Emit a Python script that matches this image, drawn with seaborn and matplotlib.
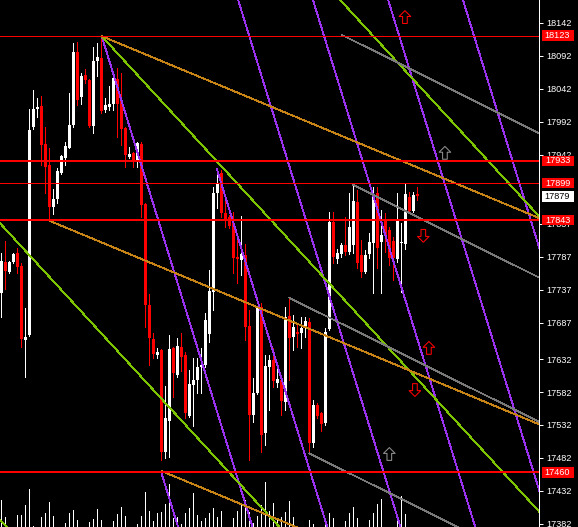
import numpy as np
import pandas as pd
import matplotlib
matplotlib.use('Agg')
import matplotlib.pyplot as plt
import matplotlib.transforms as mtransforms
from matplotlib.patches import Rectangle
from matplotlib.path import Path
import seaborn as sns

# ---------------- data ----------------
opens = [17732,17779,17764,17779,17793,17773,17661,17669,17984,18011,
         18016,17958,17927,17863,17875,17914,17937,17952,17987,18098,
         18030,18063,18056,17986,18084,18089,18010,18015,18019,18057,
         18025,17983,17939,17945,17933,17958,17867,17714,17662,17638,
         17646,17491,17538,17649,17608,17650,17638,17546,17593,17600,
         17620,17623,17670,17734,17884,17914,17854,17848,17838,17787,
         17782,17790,17682,17547,17580,17711,17520,17620,17631,17596,
         17600,17567,17697,17666,17673,17672,17679,17688,17505,17562,
         17550,17535,17678,17840,17784,17791,17805,17795,17805,17870,
         17790,17764,17791,17808,17884,17810,17843,17828,17811,17784,
         17808,17807,17878,17857,17882]
highs = [17793,17811,17781,17793,17801,17778,17710,18011,18040,18028,
         18031,17984,17952,17890,17922,17942,17961,18036,18112,18113,
         18066,18072,18057,18106,18112,18122,18028,18046,18060,18074,
         18066,17984,17954,17946,17961,17961,17869,17731,17672,17649,
         17647,17591,17669,17650,17664,17672,17643,17615,17634,17634,
         17649,17702,17767,17893,17920,17919,17878,17851,17855,17819,
         17849,17807,17707,17603,17711,17717,17638,17638,17649,17620,
         17603,17711,17725,17699,17687,17696,17696,17694,17570,17565,
         17552,17679,17855,17855,17799,17808,17848,17884,17896,17889,
         17813,17798,17823,17893,17893,17858,17854,17832,17817,17884,
         17839,17899,17886,17886,17893]
lows = [17696,17738,17763,17778,17763,17650,17605,17667,17981,17999,
        17927,17884,17842,17852,17869,17913,17927,17952,17984,18018,
        18019,18051,17984,17975,18062,18005,18007,18010,18010,17969,
        17957,17923,17937,17923,17923,17848,17681,17623,17634,17634,
        17479,17482,17483,17574,17605,17614,17543,17544,17530,17580,
        17580,17620,17658,17707,17861,17848,17832,17831,17763,17747,
        17760,17661,17479,17537,17579,17491,17502,17555,17590,17590,
        17547,17555,17600,17646,17650,17649,17666,17489,17499,17543,
        17523,17532,17676,17778,17778,17787,17790,17791,17793,17770,
        17757,17763,17785,17732,17770,17732,17795,17775,17752,17779,
        17734,17799,17854,17855,17873]
closes = [17781,17766,17779,17791,17772,17662,17666,17980,18011,18015,
          17957,17923,17863,17875,17917,17940,17955,17987,18098,18025,
          18062,18056,17986,18084,18090,18008,18018,18019,18059,18019,
          17981,17942,17943,17934,17960,17866,17714,17664,17640,17643,
          17491,17543,17647,17611,17652,17635,17550,17594,17600,17620,
          17623,17691,17735,17884,17899,17854,17845,17834,17785,17784,
          17791,17681,17547,17580,17710,17517,17621,17631,17599,17602,
          17568,17696,17664,17681,17670,17679,17690,17505,17562,17546,
          17533,17673,17840,17787,17793,17805,17795,17832,17872,17778,
          17764,17790,17810,17878,17801,17820,17820,17785,17785,17843,
          17810,17883,17857,17881,17879]
volumes = [27,10,0,0,12,12,22,38,1,0,
           10,14,25,11,0,0,4,14,17,7,
           0,0,5,8,18,7,0,0,6,13,
           20,11,0,0,3,11,35,16,6,14,
           15,23,43,9,10,3,14,19,34,12,
           6,9,14,19,10,16,0,0,9,16,
           22,27,15,4,11,22,45,16,24,7,
           10,15,26,10,0,0,0,7,3,0,
           0,6,14,9,0,0,6,14,20,9,
           0,0,7,14,23,28,0,0,0,12,
           31,13,0,0,0]

# trend / fan lines: kind, start (bar, price), end (bar, price)
line_kind = ['purple'] * 7 + ['green'] * 4 + ['orange'] * 3 + ['gray'] * 4
line_x0 = [40.0, 25.1, 53.9, 55.5, 74.2, 93.0, 111.7,
           80.0, 25.1, -5.0, -5.0,
           25.1, 12.0, 40.1,
           85.1, 88.0, 72.0, 77.0]
line_p0 = [17460, 18122, 17920, 18250, 18250, 18250, 18250,
           18208, 18122, 17869, 17419,
           18122, 17842, 17462,
           18124, 17896, 17725, 17489]
line_x1 = [48.1, 66.7, 85.4, 103.7, 122.4, 141.2, 159.9,
           140.0, 140.0, 140.0, 40.0,
           140.0, 140.0, 140.0,
           140.0, 140.0, 140.0, 140.0]
line_p1 = [17300, 17300, 17300, 17300, 17300, 17300, 17300,
           17812, 17364, 16912, 17122,
           17832, 17519, 17210,
           17958, 17739, 17520, 17299]

level_values = [18123, 17933, 17899, 17843, 17460]
level_strong = [False, True, False, True, True]
current_price = 17879
ytick_values = [18142, 18092, 18042, 17992, 17942, 17837, 17787, 17737,
                17687, 17632, 17582, 17532, 17482, 17432, 17382]

arrow_x = [100.9, 110.9, 105.5, 106.9, 103.4, 97.0]
arrow_p = [18151, 17945, 17819, 17649, 17585, 17488]
arrow_dir = ['up', 'up', 'down', 'up', 'down', 'up']
arrow_col = ['#ff0000', '#909090', '#ff0000', '#ff0000', '#ff0000', '#909090']

# ---------------- style ----------------
sns.set_style('dark')
plt.rcParams['font.family'] = ['Liberation Sans', 'DejaVu Sans']

W, H = 578, 527
PX = 0.72  # one pixel in points at dpi 100
fig = plt.figure(figsize=(W / 100, H / 100), dpi=100, facecolor='black')
AXW = 539
ax = fig.add_axes([0, 0, AXW / W, 1])
ax.set_facecolor('black')

XMIN, XMAX = -0.33, 134.42
YMIN, YMAX = 17377.2, 18176.9
ppp = (YMAX - YMIN) / H

o = np.array(opens, float); c = np.array(closes, float)
hi = np.array(highs, float); lo = np.array(lows, float)
idx = np.arange(len(o))
up = c >= o
cols = np.where(up, '#ffffff', '#ff0000')

# volume (bottom overlay)
ax.vlines(idx, 0, np.array(volumes) / H, transform=ax.get_xaxis_transform(),
          colors='white', linewidth=0.6, antialiased=False, zorder=2)

# candles
ax.vlines(idx, lo, hi, colors=cols, linewidth=0.6, antialiased=False, zorder=3)
bh = np.maximum(np.abs(c - o), 1.6)
ax.bar(idx, bh, bottom=np.minimum(o, c), width=0.8, color=cols,
       linewidth=0, antialiased=False, zorder=4)

# diagonal lines via seaborn
rows = []
for k in range(len(line_kind)):
    rows.append(dict(line=k, kind=line_kind[k], x=line_x0[k], price=line_p0[k]))
    rows.append(dict(line=k, kind=line_kind[k], x=line_x1[k], price=line_p1[k]))
df = pd.DataFrame(rows)
palette = {'purple': '#9a32f0', 'green': '#7cc400', 'orange': '#c98418', 'gray': '#7a7a7a'}
sns.lineplot(data=df, x='x', y='price', hue='kind', units='line', estimator=None,
             palette=palette, legend=False, sort=False, linewidth=0.6,
             antialiased=False, ax=ax, zorder=5)

# horizontal levels
for v, strong in zip(level_values, level_strong):
    ax.axhline(v, color='#ff0000', linewidth=1.3 if strong else 0.6,
               antialiased=False, zorder=6)

# arrows
up_path = Path([(-0.5, 0.05), (0, 0.55), (0.5, 0.05), (0.2, 0.05), (0.2, -0.55),
                (-0.2, -0.55), (-0.2, 0.05), (-0.5, 0.05)],
               [Path.MOVETO] + [Path.LINETO] * 6 + [Path.CLOSEPOLY])
down_path = Path([(x, -y) for x, y in up_path.vertices], up_path.codes)
for x, p, d, col in zip(arrow_x, arrow_p, arrow_dir, arrow_col):
    ax.scatter([x], [p], marker=up_path if d == 'up' else down_path, s=85,
               facecolors='none', edgecolors=col, linewidths=0.75, zorder=8)

ax.set_xlim(XMIN, XMAX)
ax.set_ylim(YMIN, YMAX)
ax.set_xlabel(''); ax.set_ylabel('')
ax.grid(False)
ax.set_xticks([])
for s in ['top', 'left', 'bottom']:
    ax.spines[s].set_visible(False)
ax.spines['right'].set_color('white')
ax.spines['right'].set_linewidth(PX)
ax.yaxis.tick_right()
ax.set_yticks(ytick_values)
ax.set_yticklabels([str(v) for v in ytick_values])
ax.tick_params(axis='y', colors='white', labelcolor='white', length=3, width=PX,
               labelsize=6.6, pad=2.5, direction='out', right=True, left=False)

# price boxes on the axis
trans = mtransforms.blended_transform_factory(ax.transAxes, ax.transData)
box_x0, box_w = 541.5 / AXW, 32 / AXW
labels = [(v, '#ff0000', 'white') for v in level_values] + [(current_price, 'white', 'black')]
for v, fc, tc in labels:
    ax.add_patch(Rectangle((box_x0, v - 5.2 * ppp), box_w, 10.4 * ppp, transform=trans,
                           facecolor=fc, edgecolor='none', clip_on=False, zorder=10))
    ax.text(box_x0 + box_w / 2, v, str(v), transform=trans, ha='center', va='center',
            color=tc, fontsize=6.6, clip_on=False, zorder=11)

fig.savefig('out.png', dpi=100, facecolor='black')
